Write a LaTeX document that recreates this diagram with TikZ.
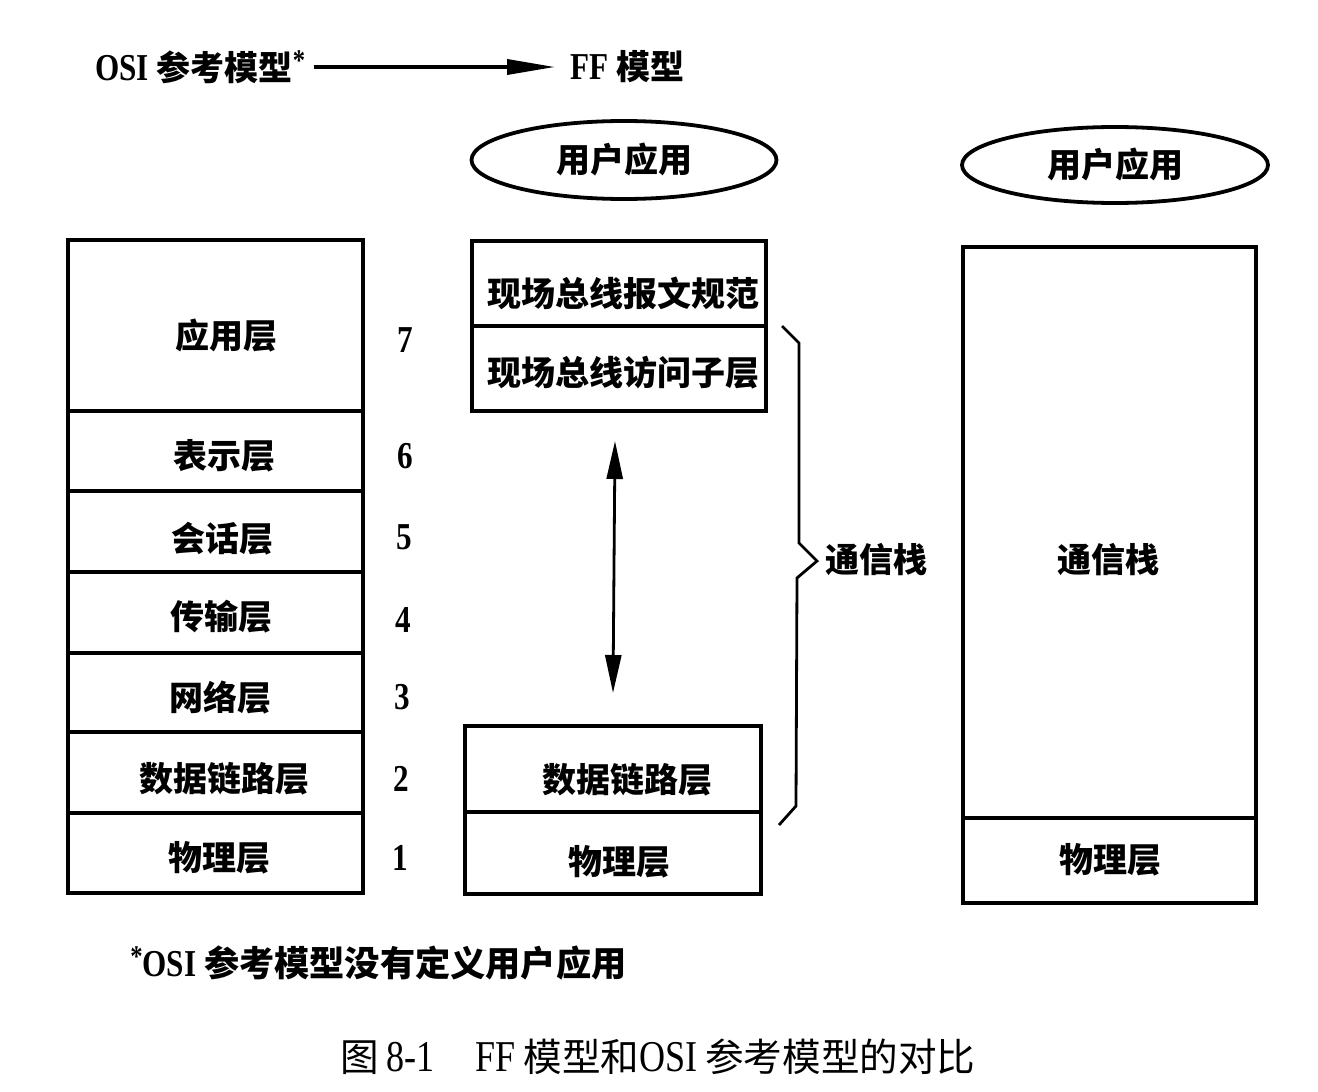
\documentclass[tikz,border=0pt]{standalone}
\usepackage{fontspec}
\setmainfont{Liberation Serif}
\newfontfamily\zhfont{Noto Sans CJK SC}
\newfontfamily\latfont{Liberation Serif}[FakeStretch=0.82]
\usetikzlibrary{arrows.meta,shapes.geometric}
\newcommand\zhb{\zhfont\bfseries\fontsize{17}{18}\selectfont}
\newcommand\zhbb{\zhfont\bfseries\fontsize{17.6}{19}\selectfont}
\newcommand\latb{\latfont\bfseries\fontsize{19}{20}\selectfont}
\newcommand\zhr{\zhfont\mdseries\fontsize{19.3}{21}\selectfont}
\newcommand\latr{\latfont\mdseries\fontsize{22}{23}\selectfont}
\newcommand\astk{\raisebox{0.55ex}{\latfont\bfseries\fontsize{15}{15}\selectfont *}}
\begin{document}
\begin{tikzpicture}[x=0.5pt,y=-0.5pt,
  sz/.style 2 args={minimum width=#1*0.5pt, minimum height=#2*0.5pt},
  box/.style={draw, line width=2pt, inner sep=0pt},
  ell/.style={draw, ellipse, line width=1.9pt, inner sep=0pt, font=\zhb},
  num/.style={font=\latb, inner sep=0pt},
  txt/.style={inner sep=0pt, font=\zhb},
  brace/.style={line width=1.4pt, line join=miter},
  dblarrow/.style={line width=1.4pt, {Triangle[length=19pt,width=8pt]}-{Triangle[length=19pt,width=8pt]}},
  toparrow/.style={line width=1.8pt, -{Triangle[length=24pt,width=7.5pt]}}
]
\useasboundingbox (0,0) rectangle (1318,1092);

% top legend
\node[txt, anchor=west] (osi) at (95,67) {{\latb OSI} {\zhb 参考模型}\astk};
\node[txt, anchor=west] (ff) at (570,67) {{\latb FF} {\zhb 模型}};
\draw[toparrow] (osi.east) ++(8,0) coordinate (ta) (ta) -- ([xshift=-7.5pt]ff.west);

% OSI stack
\node[box, sz={295}{171}] (l7) at (215,325.5) {};
\node[box, sz={295}{80}]  (l6) at (215,451)   {};
\node[box, sz={295}{81}]  (l5) at (215,531.5) {};
\node[box, sz={295}{81}]  (l4) at (215,612.5) {};
\node[box, sz={295}{79}]  (l3) at (215,692.5) {};
\node[box, sz={295}{81}]  (l2) at (215,772.5) {};
\node[box, sz={295}{80}]  (l1) at (215,853)   {};
\node[txt] (t7) at (226,336) {应用层};
\node[txt] (t6) at (224,456) {表示层};
\node[txt] (t5) at (222,539) {会话层};
\node[txt] (t4) at (221,617) {传输层};
\node[txt] (t3) at (220,698) {网络层};
\node[txt] (t2) at (224,779) {数据链路层};
\node[txt] (t1) at (219,858) {物理层};

\node[num] (n7) at (405,340) {7};
\node[num] (n6) at (405,456) {6};
\node[num] (n5) at (404,537) {5};
\node[num] (n4) at (403,620) {4};
\node[num] (n3) at (402,697) {3};
\node[num] (n2) at (401,779) {2};
\node[num] (n1) at (400,858) {1};

% FF model
\node[ell, sz={305}{78}] (ua1) at (624,160) {用户应用};
\node[box, sz={294}{85}] (fms) at (619,283.5) {};
\node[box, sz={294}{85}] (fas) at (619,368.5) {};
\node[box, sz={296}{86}] (fdl) at (613,769) {};
\node[box, sz={296}{82}] (fph) at (613,853) {};
\node[txt] (tfms) at (623,293) {现场总线报文规范};
\node[txt] (tfas) at (623,373) {现场总线访问子层};
\node[txt] (tfdl) at (627,780) {数据链路层};
\node[txt] (tfph) at (619,862) {物理层};
\coordinate (a1) at (615,441);
\coordinate (a2) at (613,693);
\draw[dblarrow] (a1) -- (a2);

% brace
\draw[brace] (782,326) -- (799,343) -- (799,543) -- (817,561) -- (797,578) -- (796,806) -- (779,825);
\node[txt, anchor=west] (cs) at (825,560) {通信栈};

% right model
\node[ell, sz={306}{76}] (ua2) at (1115,165) {用户应用};
\node[box, sz={293}{571}] (rcs) at (1109.5,532.5) {};
\node[box, sz={293}{85}] (rph) at (1109.5,860.5) {};
\node[txt] (rcst) at (1108,560) {通信栈};
\node[txt] (rpht) at (1110,860) {物理层};

% footnote and caption
\node[txt, anchor=west] (fn) at (130,963) {\astk{\latb OSI} {\zhbb 参考模型没有定义用户应用}};
\node[txt] (cap) at (658,1057) {{\zhr 图} {\latr 8-1}\hspace{1.2em}{\latr FF} {\zhr 模型和}{\latr OSI} {\zhr 参考模型的对比}};
\end{tikzpicture}
\end{document}
